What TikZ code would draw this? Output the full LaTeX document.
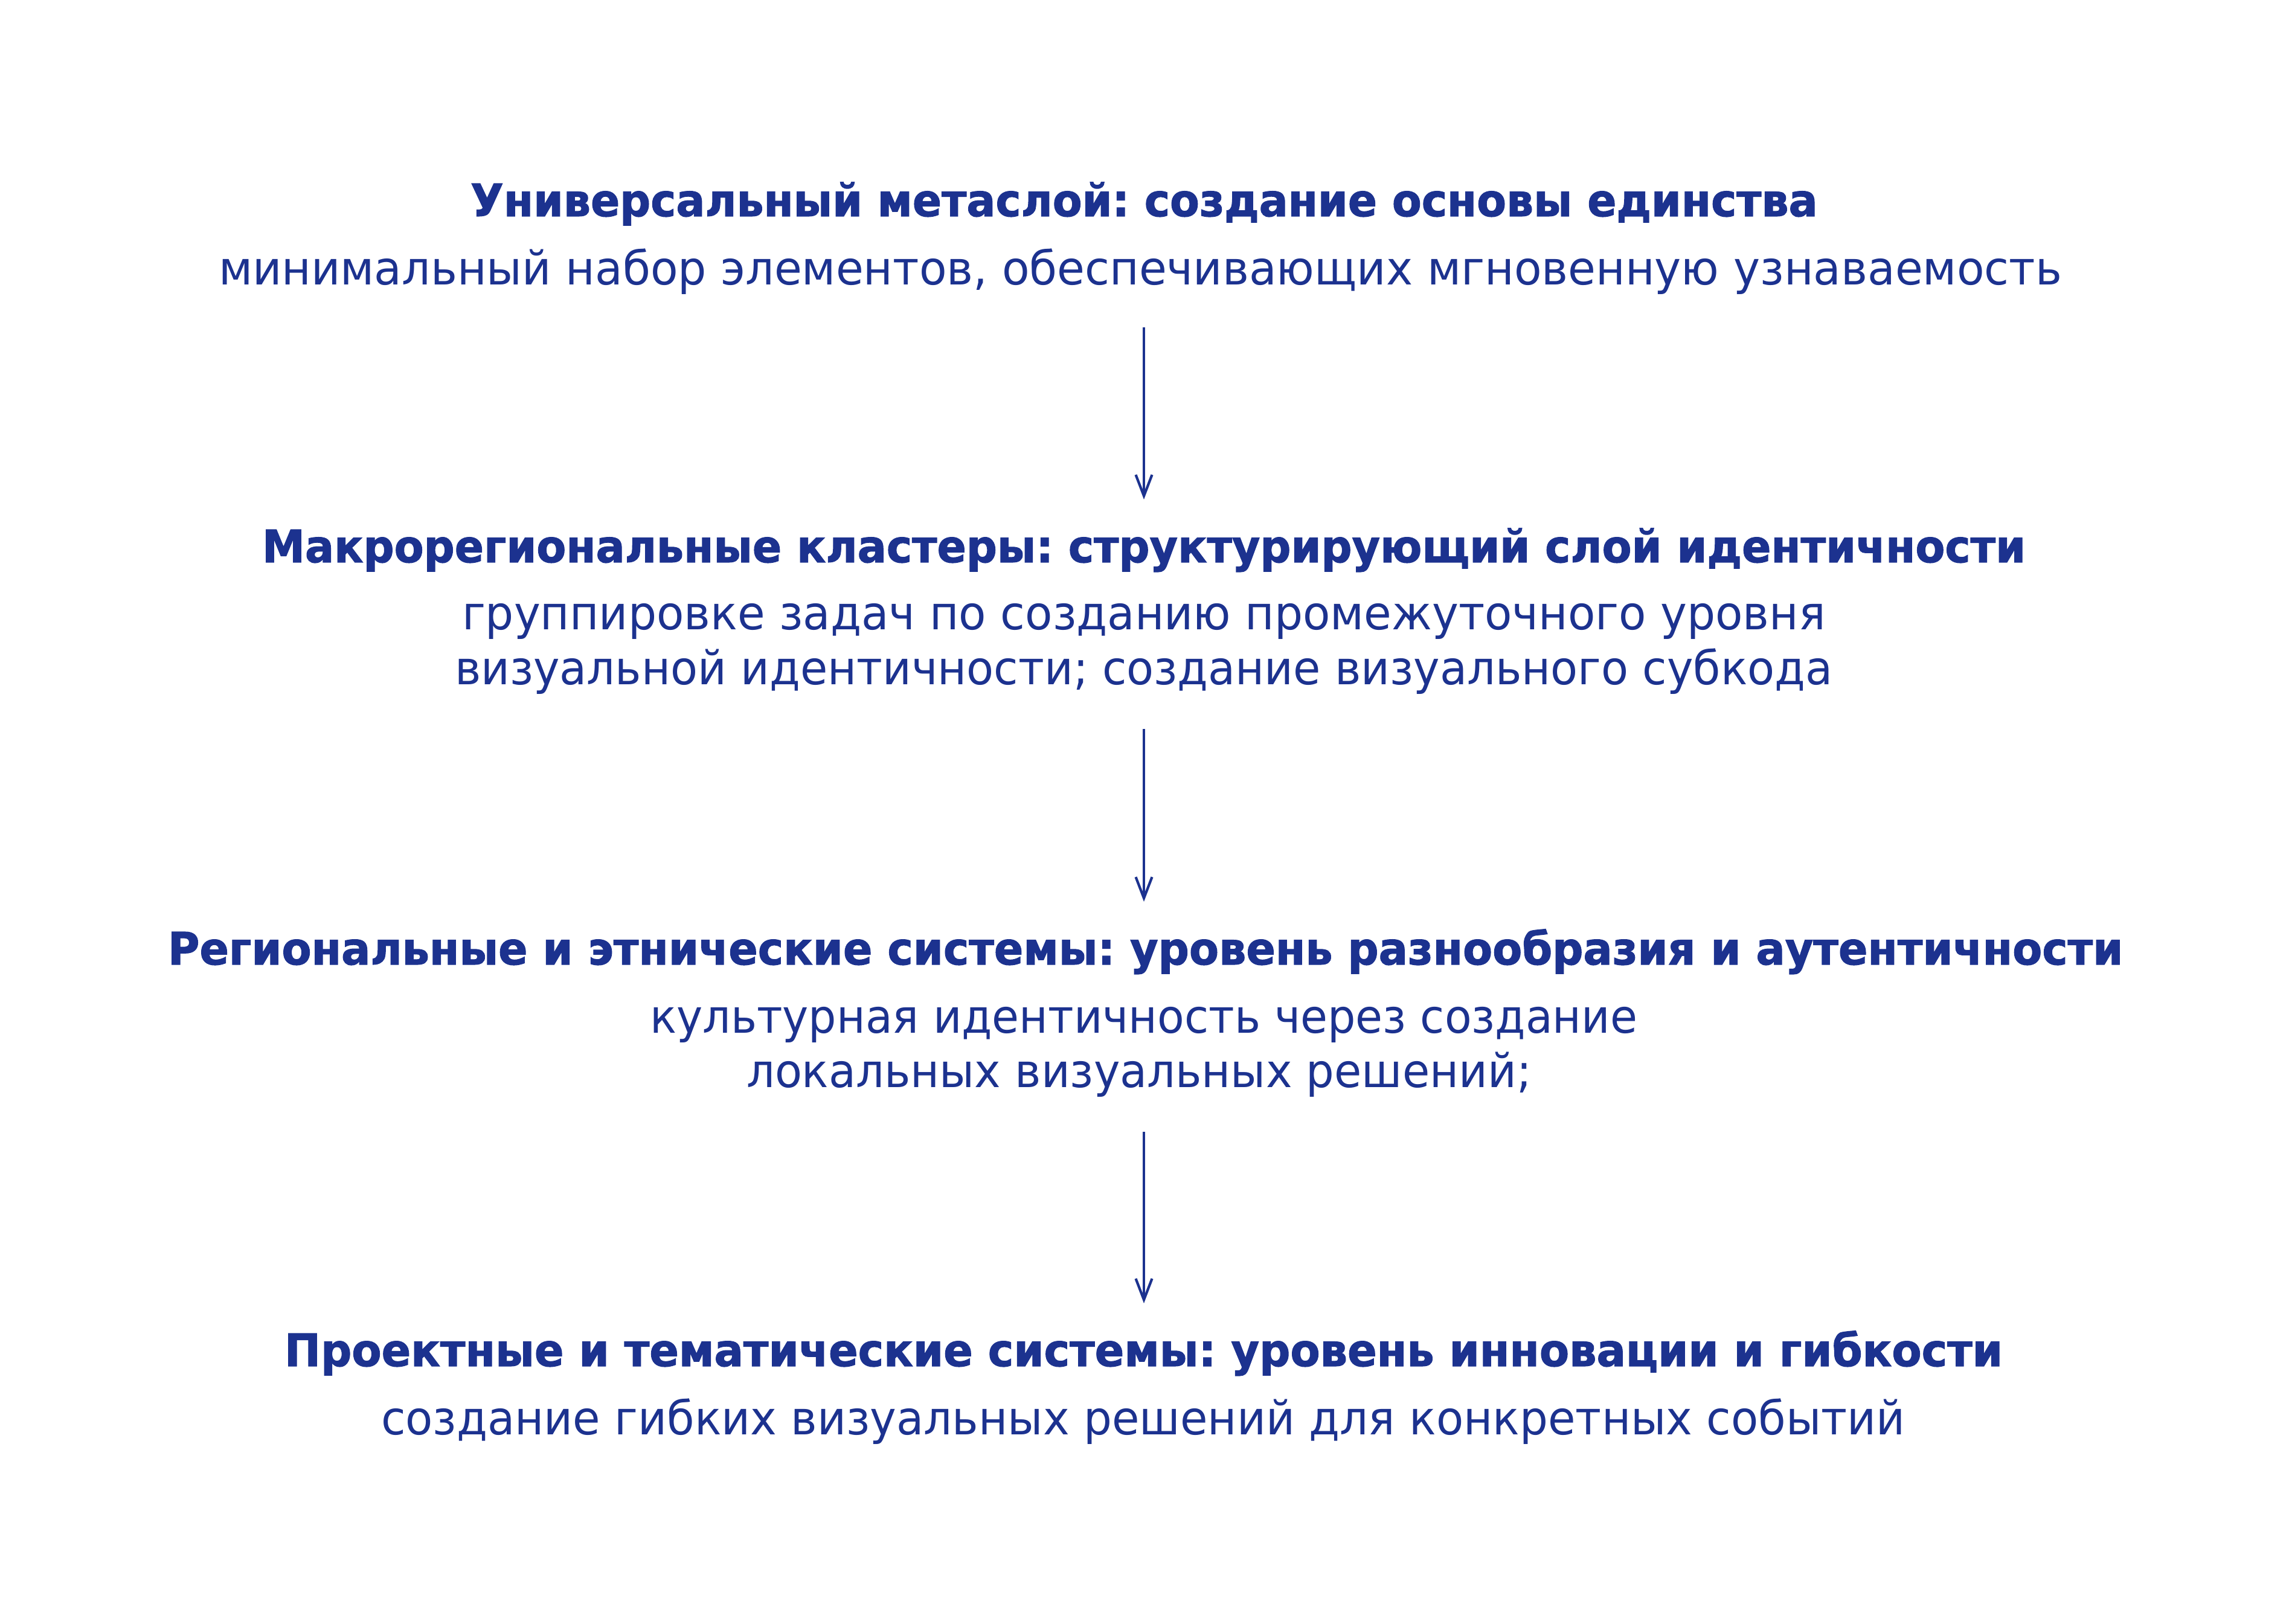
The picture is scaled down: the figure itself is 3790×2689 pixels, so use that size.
\documentclass[tikz,border=0pt]{standalone}
\usepackage{fontspec}
\usepackage{graphicx}
\setmainfont{DejaVu Sans}[BoldFeatures={FakeBold=1.5}]
\usetikzlibrary{arrows.meta}
\definecolor{navy}{RGB}{28,50,143}
\newcommand\fitw[2]{\resizebox{#1}{\height}{#2}}
\frenchspacing
\begin{document}
\begin{tikzpicture}[x=0.01cm,y=-0.01cm]
\tikzset{
  ttl/.style={anchor=base west, inner sep=0pt, outer sep=0pt, text=navy, font=\fontsize{21.05pt}{25pt}\selectfont\bfseries},
  sub/.style={anchor=base west, inner sep=0pt, outer sep=0pt, text=navy, font=\fontsize{21.9pt}{26pt}\selectfont},
  flow/.style={draw=navy, line width=1.2pt, -{Straight Barb[length=0.35cm,width=0.27cm]}}
}
\useasboundingbox (0,0) rectangle (3790,2689);
% level 1
\node[ttl] (t1) at (779,358) {\fitw{22.29cm}{Универсальный метаслой: создание основы единства}};
\node[sub] (s1) at (362,472) {\fitw{30.50cm}{минимальный набор элементов, обеспечивающих мгновенную узнаваемость}};
% level 2
\node[ttl] (t2) at (434,931) {\fitw{29.18cm}{Макрорегиональные кластеры: структурирующий слой идентичности}};
\node[sub] (s2a) at (765,1043) {\fitw{22.56cm}{группировке задач по созданию промежуточного уровня}};
\node[sub] (s2b) at (753,1134) {\fitw{22.80cm}{визуальной идентичности; создание визуального субкода}};
% level 3
\node[ttl] (t3) at (278,1597) {\fitw{32.35cm}{Региональные и этнические системы: уровень разнообразия и аутентичности}};
\node[sub] (s3a) at (1076,1710) {\fitw{16.34cm}{культурная идентичность через создание}};
\node[sub] (s3b) at (1236,1800) {\fitw{12.99cm}{локальных визуальных решений;}};
% level 4
\node[ttl] (t4) at (471,2262) {\fitw{28.43cm}{Проектные и тематические системы: уровень инновации и гибкости}};
\node[sub] (s4) at (631,2375) {\fitw{25.22cm}{создание гибких визуальных решений для конкретных событий}};
% arrows
\coordinate (a1s) at (1894,542);  \coordinate (a1e) at (1894,827);
\coordinate (a2s) at (1894,1207); \coordinate (a2e) at (1894,1493);
\coordinate (a3s) at (1894,1874); \coordinate (a3e) at (1894,2158);
\draw[flow] (a1s) -- (a1e);
\draw[flow] (a2s) -- (a2e);
\draw[flow] (a3s) -- (a3e);
\end{tikzpicture}
\end{document}
